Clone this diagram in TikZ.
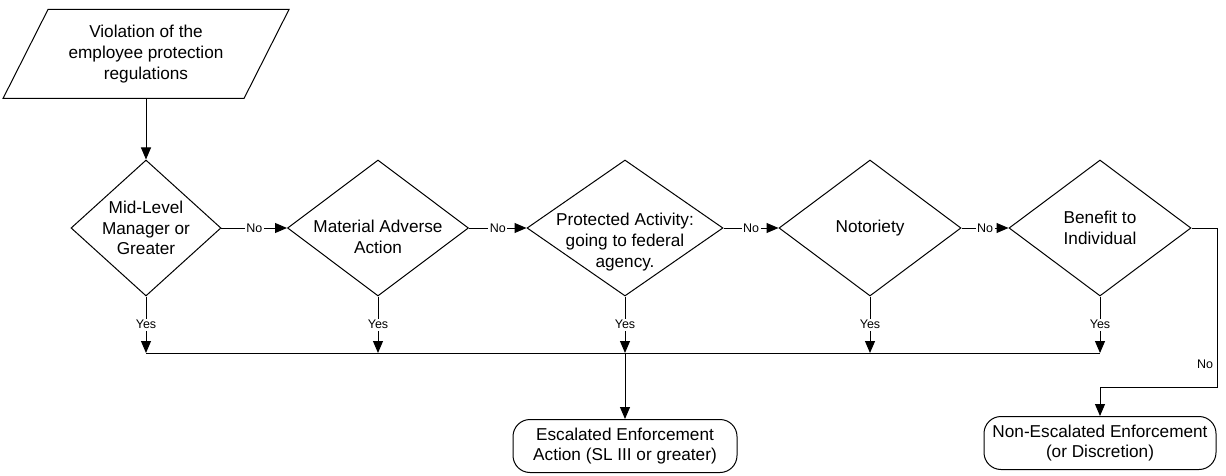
\documentclass[tikz,border=0pt]{standalone}
\usepackage{fontspec}
\setmainfont{Liberation Sans}
\usetikzlibrary{positioning, shapes.geometric, arrows.meta}
\newcommand{\txtfont}{\fontsize{17.2}{20.8}\selectfont}
\newcommand{\tagfont}{\fontsize{12.5}{14}\selectfont}

\begin{document}
\begin{tikzpicture}[x=1pt,y=-1pt,on grid,line width=1pt,
  flow/.style={-{Triangle[length=12pt,width=10pt]}},
  dec/.style={diamond,draw,aspect=1.1,inner sep=-25pt,minimum height=136pt,align=center,font=\txtfont},
  term/.style={rectangle,draw,rounded corners=17pt,align=center,font=\txtfont,minimum height=53pt}]
  \useasboundingbox (0,0) rectangle (1226,476);
  \node[dec,minimum width=150pt]                                (L) at (146,228)      {Mid-Level\\Manager or\\Greater};
  \node[dec,minimum width=181pt,text height=50pt,text depth=0pt] (M) [right =232pt of L] {Material Adverse\\Action};
  \node[dec,minimum width=196pt,text height=78pt,text depth=0pt] (P) [right =247pt of M] {Protected Activity:\\going to federal\\agency.};
  \node[dec,minimum width=182pt]                                (N) [right =245pt of P] {Notoriety};
  \node[dec,minimum width=182pt]                                (B) [right =230pt of N] {Benefit to\\Individual};
  \node[align=center,font=\txtfont,minimum width=240pt,minimum height=88pt]
                                                                (V) [above =174pt of L] {Violation of the\\employee protection\\regulations};
  \draw ([xshift=-22.5pt]V.south west) -- ([xshift=22.5pt]V.north west)
     -- ([xshift=22.5pt]V.north east) -- ([xshift=-22.5pt]V.south east) -- cycle;
  \node[term,minimum width=224pt]                               (E) [below =218pt of P] {Escalated Enforcement\\Action (SL III or greater)};
  \node[term,minimum width=232pt]                               (X) [below =215pt of B] {Non-Escalated Enforcement\\(or Discretion)};
  \coordinate (bus) at (0,353);
  \coordinate (turn) at (1217,387);
\tikzset{every node/.style={fill=white,font=\tagfont,inner sep=1.5pt}}
\path (V)       edge [flow]                (L)
      (L)       edge [flow] node {No}      (M)
      (M)       edge [flow] node {No}      (P)
      (P)       edge [flow] node {No}      (N)
      (N)       edge [flow] node {No}      (B)
      (L)       edge [flow] node {Yes}     (L |- bus)
      (M)       edge [flow] node {Yes}     (M |- bus)
      (P)       edge [flow] node {Yes}     (P |- bus)
      (N)       edge [flow] node {Yes}     (N |- bus)
      (B)       edge [flow] node {Yes}     (B |- bus)
      (P |- bus) edge [flow]               (E);
\draw (L |- bus) -- (B |- bus);
\draw[flow] (B) -| node[pos=0.93,left,xshift=-2pt] {No} (turn) -| (X);
\end{tikzpicture}
\end{document}
